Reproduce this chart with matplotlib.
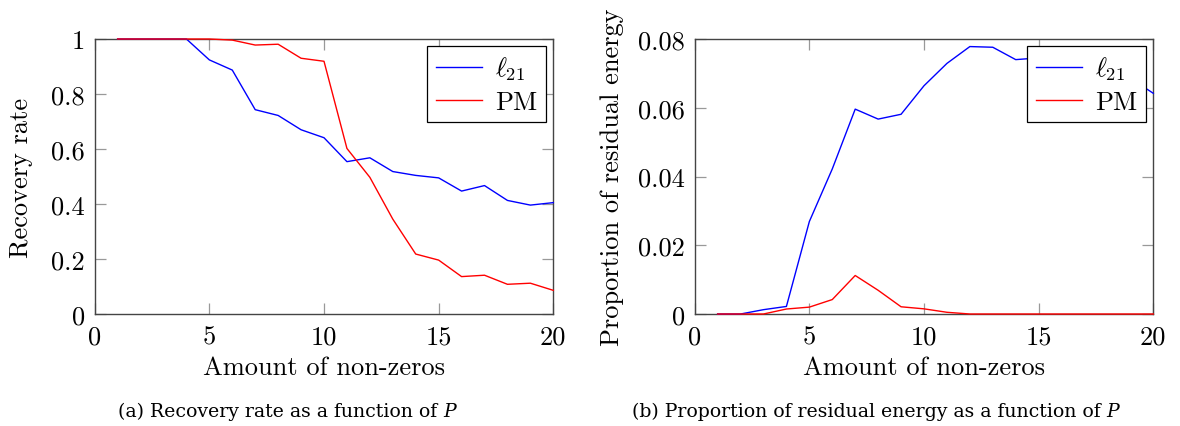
import matplotlib
matplotlib.use("Agg")
import matplotlib.pyplot as plt

# ---- data ----
nonzeros = list(range(1, 21))

recovery_l21 = [1.0, 1.0, 1.0, 1.0, 0.924, 0.887, 0.743, 0.722, 0.670, 0.641,
                0.554, 0.568, 0.518, 0.504, 0.495, 0.447, 0.467, 0.413, 0.396, 0.405]
recovery_pm = [1.0, 1.0, 1.0, 1.0, 1.0, 0.996, 0.978, 0.981, 0.930, 0.919,
               0.602, 0.497, 0.345, 0.218, 0.196, 0.136, 0.141, 0.108, 0.112, 0.086]

energy_l21 = [0.0, 0.0, 0.00126, 0.0022, 0.0269, 0.0422, 0.0596, 0.0567, 0.0581, 0.0664,
              0.0729, 0.0778, 0.0776, 0.0740, 0.0745, 0.0748, 0.0735, 0.0710, 0.0686, 0.0642]
energy_pm = [0.0, 0.0, 0.0, 0.00145, 0.0020, 0.0042, 0.0112, 0.0069, 0.0021, 0.0015,
             0.0005, 0.0, 0.0, 0.0, 0.0, 0.0, 0.0, 0.0, 0.0, 0.0]

series_labels = [r"$\ell_{21}$", "PM"]
xlabel_text = "Amount of non-zeros"
ylabels = ["Recovery rate", "Proportion of residual energy"]
caption_texts = ["(a) Recovery rate as a function of ",
                 "(b) Proportion of residual energy as a function of "]
caption_var = "P"
xticks = [0, 5, 10, 15, 20]
yticks_a = [0, 0.2, 0.4, 0.6, 0.8, 1.0]
yticklabels_a = ["0", "0.2", "0.4", "0.6", "0.8", "1"]
yticks_b = [0, 0.02, 0.04, 0.06, 0.08]
yticklabels_b = ["0", "0.02", "0.04", "0.06", "0.08"]

plt.rcParams["font.family"] = "serif"
plt.rcParams["font.serif"] = ["cmr10"]
plt.rcParams["mathtext.fontset"] = "cm"
plt.rcParams["axes.formatter.use_mathtext"] = True

FS = 19

fig = plt.figure(figsize=(11.8, 4.27), dpi=100)
W, H = 1180, 427
axw, axh = 458.6 / W, 275 / H
bottom = (H - 315) / H
ax1 = fig.add_axes([94.7 / W, bottom, axw, axh])
ax2 = fig.add_axes([694.7 / W, bottom, axw, axh])

def style(ax, yt, ytl, ylim, ylab, ylab_x):
    ax.set_xlim(0, 20)
    ax.set_ylim(*ylim)
    ax.set_xticks(xticks)
    ax.set_xticklabels([str(t) for t in xticks])
    ax.set_yticks(yt)
    ax.set_yticklabels(ytl)
    ax.tick_params(direction="in", top=True, right=True, length=8, width=0.9,
                   color="#999999", labelsize=FS)
    ax.tick_params(axis="x", pad=8)
    ax.tick_params(axis="y", pad=7)
    for s in ax.spines.values():
        s.set_color("#444444")
        s.set_linewidth(1.0)
        s.set_zorder(2)
    ax.set_xlabel(xlabel_text, fontsize=FS)
    ax.xaxis.set_label_coords(0.5, (315 - 356) / 275)
    ax.set_ylabel(ylab, fontsize=FS, va="center")
    ax.yaxis.set_label_coords(ylab_x, 0.5)
    leg = ax.legend(loc="upper right", fontsize=FS, frameon=True, fancybox=False,
                    edgecolor="black", framealpha=1, handlelength=1.75,
                    borderaxespad=0.28, borderpad=0.32, labelspacing=0.3,
                    handletextpad=0.5)
    leg.get_frame().set_linewidth(0.9)
    leg.set_zorder(5)

ax1.plot(nonzeros, recovery_l21, color="blue", lw=1.0, label=series_labels[0],
         zorder=3, clip_on=False)
ax1.plot(nonzeros, recovery_pm, color="red", lw=1.0, label=series_labels[1],
         zorder=3, clip_on=False)
style(ax1, yticks_a, yticklabels_a, (0, 1.0), ylabels[0], (21 - 94.7) / 458.6)

ax2.plot(nonzeros, energy_l21, color="blue", lw=1.0, label=series_labels[0],
         zorder=3, clip_on=False)
ax2.plot(nonzeros, energy_pm, color="red", lw=1.0, label=series_labels[1],
         zorder=3, clip_on=False)
style(ax2, yticks_b, yticklabels_b, (0, 0.08), ylabels[1], (612 - 694.7) / 458.6)

# captions: upright text plus italic variable
renderer = fig.canvas.get_renderer()
cap_fs = 13.6
for left_px, txt in zip([118, 632], caption_texts):
    t = fig.text(left_px / W, 1 - 417 / H, txt, ha="left", va="baseline",
                 fontsize=cap_fs, family="DejaVu Serif")
    bb = t.get_window_extent(renderer=renderer)
    fig.text(bb.x1 / W, 1 - 417 / H, caption_var, ha="left", va="baseline",
             fontsize=cap_fs, family="DejaVu Serif", style="italic")

fig.savefig("out.png", dpi=100)
